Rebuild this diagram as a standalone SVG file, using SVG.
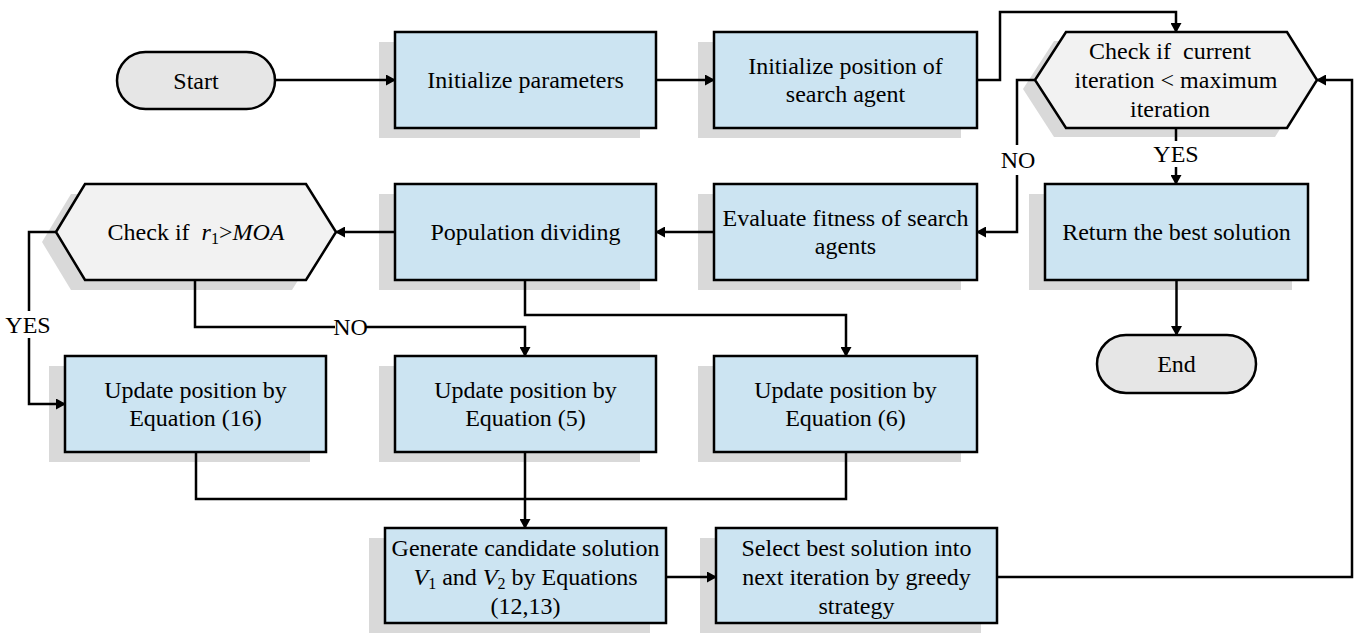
<svg xmlns="http://www.w3.org/2000/svg" width="1357" height="633" viewBox="0 0 1357 633">
<style>
.box{fill:#CCE4F2;stroke:#000;stroke-width:2.5}
.hex{fill:#F2F2F2;stroke:#000;stroke-width:2.5}
.term{fill:#E6E6E6;stroke:#000;stroke-width:2.5}
.sh{fill:#D9D9D9;stroke:none}
.ln{fill:none;stroke:#000;stroke-width:2.5}
.arr{marker-end:url(#ah)}
text{font-family:"Liberation Serif","Times New Roman",serif;font-size:24px;fill:#000;text-anchor:middle}
.it{font-style:italic}
</style>
<defs>
<marker id="ah" markerUnits="userSpaceOnUse" markerWidth="10" markerHeight="11" refX="9" refY="5.5" orient="auto">
<path d="M0,0 L10,5.5 L0,11 z" fill="#000"/>
</marker>
</defs>
<rect width="1357" height="633" fill="#fff"/>

<g id="start">
<rect class="term" x="117" y="52" width="158" height="57" rx="28.5"/>
<text x="196" y="89">Start</text>
</g>

<g id="init-params">
<rect class="sh" x="379" y="42" width="261" height="96"/>
<rect class="box" x="395" y="32" width="261" height="96"/>
<text x="525.5" y="88">Initialize parameters</text>
</g>

<g id="init-position">
<rect class="sh" x="698" y="42" width="263" height="96"/>
<rect class="box" x="714" y="32" width="263" height="96"/>
<text x="845.5" y="74">Initialize position of</text>
<text x="845.5" y="102">search agent</text>
</g>

<g id="check-iter">
<polygon class="sh" points="1023,89 1054,41 1275,41 1305,89 1275,137 1054,137"/>
<polygon class="hex" points="1035,80 1066,32 1287,32 1317,80 1287,128 1066,128"/>
<text x="1170" y="59" xml:space="preserve">Check if  current</text>
<text x="1176" y="88">iteration &lt; maximum</text>
<text x="1170" y="117">iteration</text>
</g>

<g id="return-best">
<rect class="sh" x="1029" y="194" width="263" height="96"/>
<rect class="box" x="1045" y="184" width="263" height="96"/>
<text x="1176.5" y="240">Return the best solution</text>
</g>

<g id="end">
<rect class="term" x="1097" y="335" width="159" height="58" rx="29"/>
<text x="1176.5" y="372">End</text>
</g>

<g id="evaluate">
<rect class="sh" x="698" y="194" width="263" height="96"/>
<rect class="box" x="714" y="184" width="263" height="96"/>
<text x="845.5" y="226">Evaluate fitness of search</text>
<text x="845.5" y="254">agents</text>
</g>

<g id="population">
<rect class="sh" x="379" y="194" width="261" height="96"/>
<rect class="box" x="395" y="184" width="261" height="96"/>
<text x="525.5" y="240">Population dividing</text>
</g>

<g id="check-moa">
<polygon class="sh" points="42,242 71,194 292,194 322,242 292,290 71,290"/>
<polygon class="hex" points="56,232 85,184 306,184 336,232 306,280 85,280"/>
<text x="196" y="240" xml:space="preserve">Check if  <tspan class="it">r</tspan><tspan font-size="16" dy="4">1</tspan><tspan dy="-4">&gt;</tspan><tspan class="it">MOA</tspan></text>
</g>

<g id="update16">
<rect class="sh" x="49" y="366" width="261" height="96"/>
<rect class="box" x="65" y="356" width="261" height="96"/>
<text x="195.5" y="398">Update position by</text>
<text x="195.5" y="426">Equation (16)</text>
</g>

<g id="update5">
<rect class="sh" x="379" y="366" width="261" height="96"/>
<rect class="box" x="395" y="356" width="261" height="96"/>
<text x="525.5" y="398">Update position by</text>
<text x="525.5" y="426">Equation (5)</text>
</g>

<g id="update6">
<rect class="sh" x="698" y="366" width="263" height="96"/>
<rect class="box" x="714" y="356" width="263" height="96"/>
<text x="845.5" y="398">Update position by</text>
<text x="845.5" y="426">Equation (6)</text>
</g>

<g id="generate">
<rect class="sh" x="369" y="538" width="281" height="96"/>
<rect class="box" x="385" y="528" width="281" height="95"/>
<text x="525.5" y="556">Generate candidate solution</text>
<text x="525.5" y="585"><tspan class="it">V</tspan><tspan font-size="16" dy="4">1</tspan><tspan dy="-4"> and </tspan><tspan class="it">V</tspan><tspan font-size="16" dy="4">2</tspan><tspan dy="-4"> by Equations</tspan></text>
<text x="525.5" y="614">(12,13)</text>
</g>

<g id="select">
<rect class="sh" x="700" y="538" width="281" height="96"/>
<rect class="box" x="716" y="528" width="281" height="95"/>
<text x="856.5" y="556">Select best solution into</text>
<text x="856.5" y="585">next iteration by greedy</text>
<text x="856.5" y="614">strategy</text>
</g>

<g id="connectors">
<path class="ln arr" d="M275,80 H395"/>
<path class="ln arr" d="M656,80 H714"/>
<path class="ln arr" d="M977,80 H1000 V12 H1176 V32"/>
<path class="ln" d="M1176,128 V141"/>
<path class="ln arr" d="M1176,167 V184"/>
<text x="1176" y="162">YES</text>
<path class="ln" d="M1035,80 H1017 V145"/>
<path class="ln arr" d="M1017,175 V232 H977"/>
<text x="1018" y="168">NO</text>
<path class="ln arr" d="M1176.5,280 V335"/>
<path class="ln arr" d="M714,232 H656"/>
<path class="ln arr" d="M395,232 H336"/>
<path class="ln" d="M56,232 H29 V311"/>
<path class="ln arr" d="M29,338 V404 H65"/>
<text x="28" y="333">YES</text>
<path class="ln" d="M195,280 V327 H335"/>
<path class="ln arr" d="M366,327 H525 V356"/>
<text x="350.5" y="335">NO</text>
<path class="ln arr" d="M525,280 V315 H846 V356"/>
<path class="ln" d="M196,452 V499 H846 V452"/>
<path class="ln arr" d="M525,452 V528"/>
<path class="ln arr" d="M666,577 H716"/>
<path class="ln arr" d="M997,577 H1352 V80 H1317"/>
</g>
</svg>
